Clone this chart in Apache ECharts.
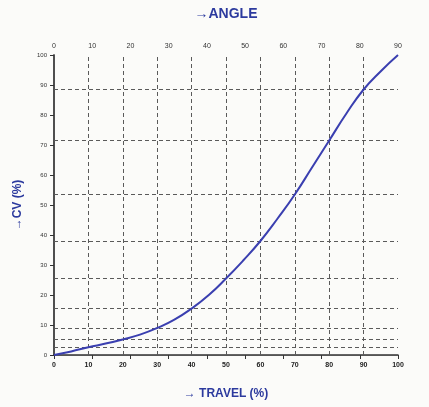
<!DOCTYPE html>
<html>
<head>
<meta charset="utf-8">
<script src="https://cdn.jsdelivr.net/npm/echarts@6/dist/echarts.min.js"></script>
<style>
html,body{margin:0;padding:0;background:#fbfbf9;}
#c{width:429px;height:407px;}
</style>
</head>
<body>
<div id="c"></div>
<script>
var travel = [0,5,10,15,20,25,30,35,40,45,50,55,60,65,70,75,80,85,90,95,100];
var cv     = [0,1.2,2.6,3.8,5.2,6.8,9,11.8,15.5,20,25.5,31.5,38,45.5,53.5,62.5,71.5,80.5,88.5,94.6,100];
var travelTicks = [0,10,20,30,40,50,60,70,80,90,100];
var angleTicks = [0,10,20,30,40,50,60,70,80,90];
var cvTicks = [0,10,20,30,40,50,60,70,80,90,100];
var cvGridLines = [2.6,5.2,9,15.5,25.5,38,53.5,71.5,88.5];
var travelGridLines = [10,20,30,40,50,60,70,80,90];

var chart = echarts.init(document.getElementById('c'), null, {renderer:'canvas'});
var blue = '#2c3a9e';
var fontF = 'Liberation Sans, Arial, sans-serif';

var mlData = [];
cvGridLines.forEach(function(v){ mlData.push({yAxis:v}); });
travelGridLines.forEach(function(v){ mlData.push({xAxis:v}); });

chart.setOption({
  backgroundColor:'#fbfbf9',
  animation:false,
  grid:{left:54,right:31,top:55,bottom:52},
  xAxis:[{
    type:'value',min:0,max:100,interval:10,position:'bottom',
    axisLine:{show:true,lineStyle:{color:'#333',width:1.5}},
    axisTick:{show:false},
    splitLine:{show:false},
    axisLabel:{fontSize:7,color:'#222',fontWeight:'bold',margin:7,fontFamily:fontF},
    name:'\u2192 TRAVEL (%)',nameLocation:'middle',nameGap:33,
    nameTextStyle:{color:blue,fontSize:12,fontWeight:'bold',fontFamily:fontF}
  },{
    type:'value',min:0,max:90,interval:10,position:'top',
    axisLine:{show:true,lineStyle:{color:'#555',width:1}},
    axisTick:{show:true,inside:true,length:4,lineStyle:{color:'#333'}},
    splitLine:{show:false},
    axisLabel:{fontSize:7,color:'#333',margin:5,fontFamily:fontF},
    name:'\u2192ANGLE',nameLocation:'middle',nameGap:34,
    nameTextStyle:{color:blue,fontSize:14,fontWeight:'bold',fontFamily:fontF}
  }],
  yAxis:[{
    type:'value',min:0,max:100,interval:10,position:'left',
    axisLine:{show:true,lineStyle:{color:'#444',width:1.5}},
    axisTick:{show:true,inside:false,length:4,lineStyle:{color:'#333'}},
    splitLine:{show:false},
    axisLabel:{fontSize:6,color:'#333',margin:7,fontFamily:fontF},
    name:'\u2192CV (%)',nameLocation:'middle',nameGap:30,nameRotate:90,
    nameTextStyle:{color:blue,fontSize:12,fontWeight:'bold',fontFamily:fontF}
  },{
    type:'value',min:0,max:100,position:'right',
    axisLine:{show:true,lineStyle:{color:'#444',width:1.5}},
    axisTick:{show:false},axisLabel:{show:false},splitLine:{show:false}
  }],
  series:[{
    type:'line',
    data:travel.map(function(t,i){return [t,cv[i]];}),
    smooth:true,
    symbol:'none',
    lineStyle:{color:'#3a3fb0',width:2},
    markLine:{
      silent:true,symbol:'none',
      label:{show:false},
      lineStyle:{color:'#5a5a5a',type:[4,3],width:1},
      data:mlData
    },
    z:5
  }]
});
</script>
</body>
</html>
